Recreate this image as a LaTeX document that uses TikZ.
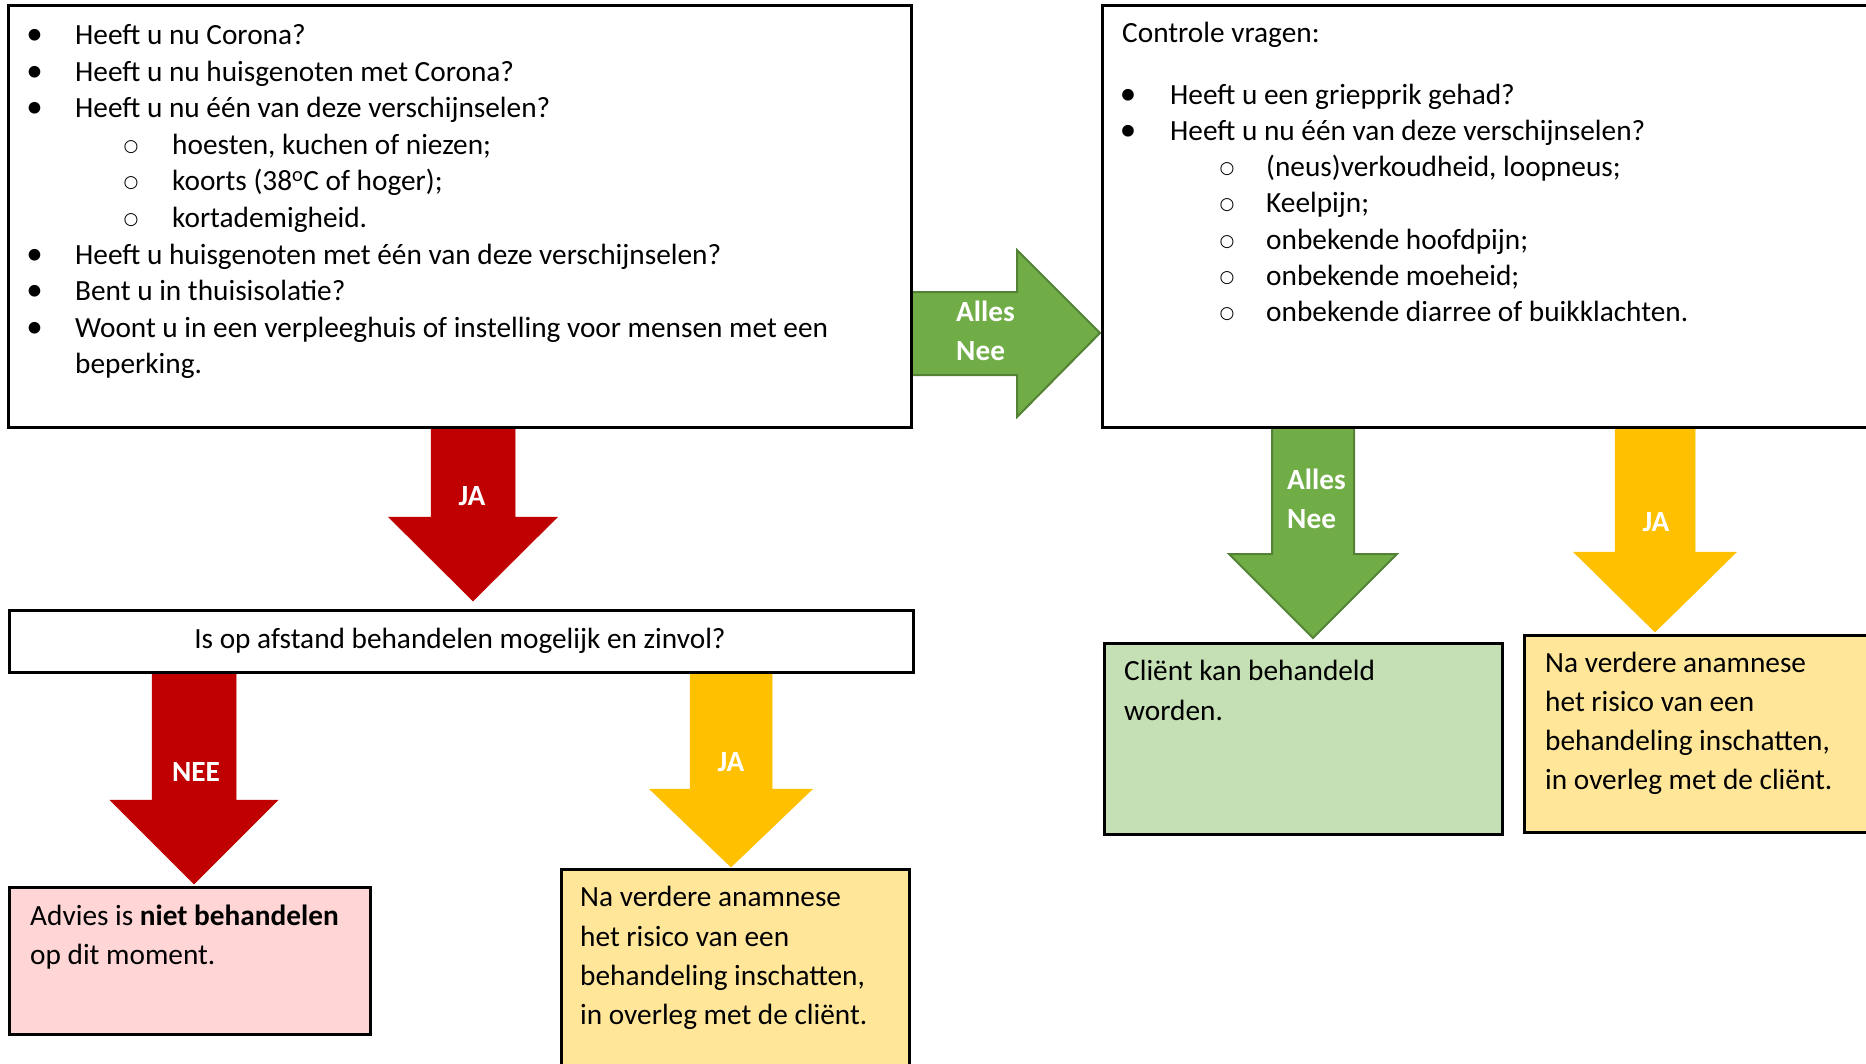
\documentclass[tikz,border=0pt]{standalone}
\usepackage{fontspec}
\setmainfont{Carlito}
\newfontfamily\subfont{DejaVu Sans}
\definecolor{redA}{HTML}{C00000}
\definecolor{greenA}{HTML}{70AD47}
\definecolor{greenD}{HTML}{548235}
\definecolor{yellowA}{HTML}{FFC000}
\definecolor{pinkBox}{HTML}{FFD5D5}
\definecolor{greenBox}{HTML}{C5E0B4}
\definecolor{yellowBox}{HTML}{FFE699}
\newcommand\bodyfont{\fontsize{29.3}{36}\selectfont}
\newcommand\blkdown[7]{%
  \filldraw[#1] (#2-#4,#3) -- (#2+#4,#3) -- (#2+#4,#5) -- (#2+#6,#5) -- (#2,#7)
    -- (#2-#6,#5) -- (#2-#4,#5) -- cycle;}
\begin{document}
\begin{tikzpicture}[x=1pt,y=-1pt,
  frame/.style={draw=black, line width=2.5pt, inner sep=0pt, anchor=north west},
  t/.style={anchor=base west, inner sep=0pt, font=\bodyfont},
  bl/.style={anchor=base, inner sep=0pt, font=\fontsize{33}{36}\selectfont},
  sb/.style={anchor=base, inner sep=0pt, yshift=3pt, font=\subfont\fontsize{17}{30}\selectfont},
  lbl/.style={anchor=base, inner sep=0pt, text=white, font=\bodyfont\bfseries},
  lbll/.style={lbl, anchor=base west},
  redarrow/.style={fill=redA, draw=redA, line width=0.5pt},
  yelarrow/.style={fill=yellowA, draw=yellowA, line width=0.5pt},
  grnarrow/.style={fill=greenA, draw=greenD, line width=2pt, line join=miter}]
\useasboundingbox (0,0) rectangle (1866,1063);
\clip (0,0) rectangle (1866,1063);
\fill[white] (0,0) rectangle (1866,1063);

% block arrows
\blkdown{redarrow}{473}{426}{42}{517}{84.5}{601}
\blkdown{redarrow}{194}{671}{42}{800}{84}{884}
\blkdown{yelarrow}{731}{672}{41}{789}{81.5}{867}
\blkdown{grnarrow}{1313}{426}{41}{554}{84}{638}
\blkdown{yelarrow}{1655}{426}{40}{552}{81.5}{632}
\filldraw[grnarrow] (910,292) -- (1017,292) -- (1017,250) -- (1100,333)
  -- (1017,417) -- (1017,375) -- (910,375) -- cycle;

% boxes
\node[frame, fill=white, minimum width=903, minimum height=422] (q1) at (7,4) {};
\node[frame, fill=white, minimum width=780, minimum height=422] (q2) at (1101,4) {};
\node[frame, fill=white, minimum width=904, minimum height=62] (q3) at (8,609) {};
\node[frame, fill=pinkBox, minimum width=361, minimum height=147] (r1) at (8,886) {};
\node[frame, fill=yellowBox, minimum width=348, minimum height=220] (r2) at (560,868) {};
\node[frame, fill=greenBox, minimum width=398, minimum height=191] (r3) at (1103,642) {};
\node[frame, fill=yellowBox, minimum width=360, minimum height=197] (r4) at (1523,634) {};

% box 1 text
\node[bl] (b1a) at (34.5,44.5) {\textbullet};
\node[t]  (t1a) at (75,44.5) {Heeft u nu Corona?};
\node[bl] (b1b) at (34.5,81.1) {\textbullet};
\node[t]  (t1b) at (75,81.1) {Heeft u nu huisgenoten met Corona?};
\node[bl] (b1c) at (34.5,117.7) {\textbullet};
\node[t]  (t1c) at (75,117.7) {Heeft u nu één van deze verschijnselen?};
\node[sb] (s1a) at (131,154.3) {○};
\node[t]  (t1d) at (172,154.3) {hoesten, kuchen of niezen;};
\node[sb] (s1b) at (131,190.9) {○};
\node[t]  (t1e) at (172,190.9) {koorts (38\textsuperscript{o}C of hoger);};
\node[sb] (s1c) at (131,227.5) {○};
\node[t]  (t1f) at (172,227.5) {kortademigheid.};
\node[bl] (b1d) at (34.5,264.1) {\textbullet};
\node[t]  (t1g) at (75,264.1) {Heeft u huisgenoten met één van deze verschijnselen?};
\node[bl] (b1e) at (34.5,300.7) {\textbullet};
\node[t]  (t1h) at (75,300.7) {Bent u in thuisisolatie?};
\node[bl] (b1f) at (34.5,337.3) {\textbullet};
\node[t]  (t1i) at (75,337.3) {Woont u in een verpleeghuis of instelling voor mensen met een};
\node[t]  (t1j) at (75,373.9) {beperking.};

% box 2 text
\node[t]  (t2h) at (1122,42.5) {Controle vragen:};
\node[bl] (b2a) at (1128,104) {\textbullet};
\node[t]  (t2a) at (1170,104) {Heeft u een griepprik gehad?};
\node[bl] (b2b) at (1128,140.3) {\textbullet};
\node[t]  (t2b) at (1170,140.3) {Heeft u nu één van deze verschijnselen?};
\node[sb] (s2a) at (1227,176.6) {○};
\node[t]  (t2c) at (1266,176.6) {(neus)verkoudheid, loopneus;};
\node[sb] (s2b) at (1227,212.9) {○};
\node[t]  (t2d) at (1266,212.9) {Keelpijn;};
\node[sb] (s2c) at (1227,249.2) {○};
\node[t]  (t2e) at (1266,249.2) {onbekende hoofdpijn;};
\node[sb] (s2d) at (1227,285.5) {○};
\node[t]  (t2f) at (1266,285.5) {onbekende moeheid;};
\node[sb] (s2e) at (1227,321.8) {○};
\node[t]  (t2g) at (1266,321.8) {onbekende diarree of buikklachten.};

% question
\node[bl, font=\bodyfont] (t3) at (460,648) {Is op afstand behandelen mogelijk en zinvol?};

% result boxes
\node[t] (r1a) at (30,925) {Advies is \textbf{niet behandelen}};
\node[t] (r1b) at (30,964) {op dit moment.};
\node[t] (r2a) at (580,906.5) {Na verdere anamnese};
\node[t] (r2b) at (580,946) {het risico van een};
\node[t] (r2c) at (580,985) {behandeling inschatten,};
\node[t] (r2d) at (580,1024) {in overleg met de cliënt.};
\node[t] (r3a) at (1124,680) {Cliënt kan behandeld};
\node[t] (r3b) at (1124,720) {worden.};
\node[t] (r4a) at (1545,672.5) {Na verdere anamnese};
\node[t] (r4b) at (1545,711.5) {het risico van een};
\node[t] (r4c) at (1545,750.5) {behandeling inschatten,};
\node[t] (r4d) at (1545,789.5) {in overleg met de cliënt.};

% arrow labels
\node[lbl] (l1) at (472,505) {JA};
\node[lbl] (l2) at (196,781) {NEE};
\node[lbl] (l3) at (731,771) {JA};
\node[lbl] (l4) at (1656,531) {JA};
\node[lbll] (l5a) at (956,321) {Alles};
\node[lbll] (l5b) at (956,360) {Nee};
\node[lbll] (l6a) at (1287,489) {Alles};
\node[lbll] (l6b) at (1287,528) {Nee};
\end{tikzpicture}
\end{document}
